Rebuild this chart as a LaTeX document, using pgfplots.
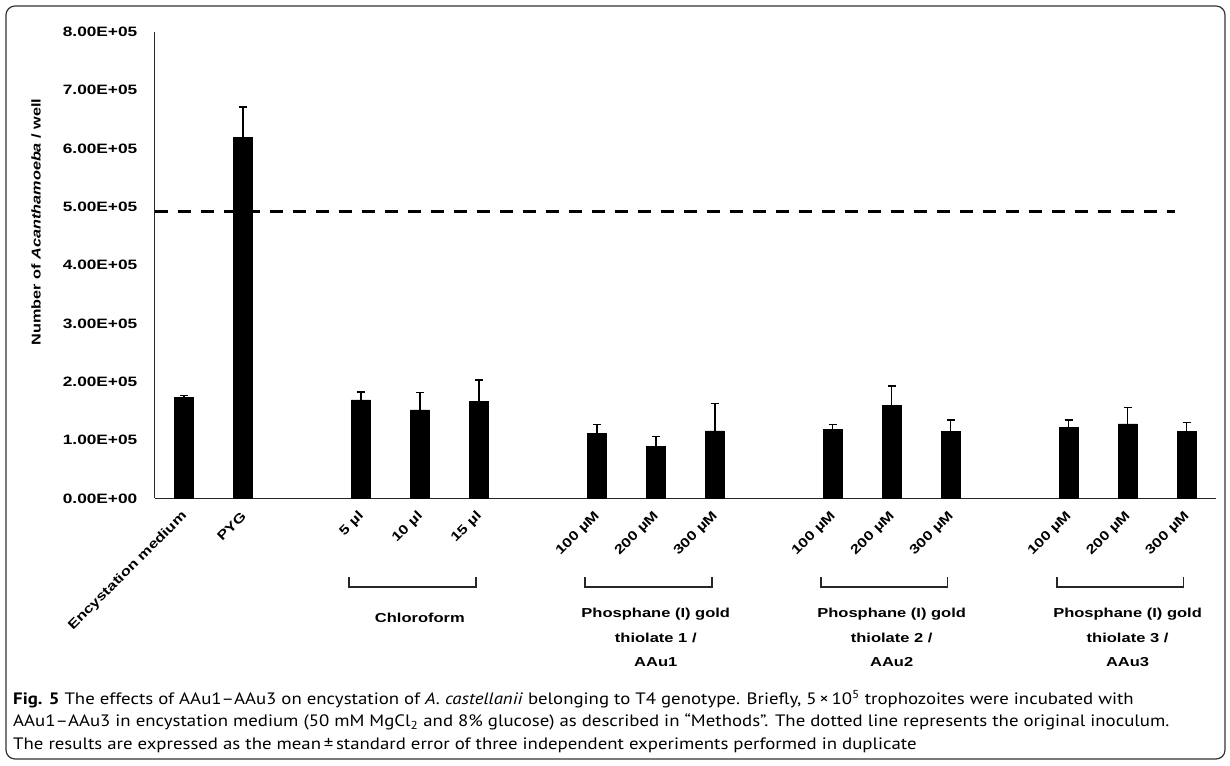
\documentclass[border=0pt]{standalone}
\usepackage{fontspec}
\usepackage{pgfplots}
\usepackage{pgfplotstable}
\pgfplotsset{compat=1.18}
\setmainfont{PT Sans}[FakeStretch=1.14]
\newfontfamily\chartfont{Liberation Sans}[FakeStretch=1.27]
\newcommand\cf{\chartfont\bfseries\fontsize{13}{15}\selectfont}
\newcommand\tf{\chartfont\bfseries\fontsize{13.6}{15}\selectfont}
\newcommand\capfont{\fontsize{16.5}{20}\selectfont}

\pgfplotstableread{
x y e
0 173000 3500
1 619500 51500
3 169000 14000
4 152000 30000
5 167000 36000
7 112000 15000
8 90000 16000
9 116000 47000
11 119000 8000
12 160000 33000
13 115000 20000
15 122000 13000
16 128000 28000
17 115000 15000
}\data

\begin{document}
\begin{tikzpicture}
\path[use as bounding box] (0,0) rectangle (1230pt,765pt);
\draw[line width=1.2pt, rounded corners=9pt, black!80] (6pt,6pt) rectangle (1225pt,759pt);
\begin{axis}[
  at={(154.5pt,266.5pt)}, anchor=south west,
  scale only axis, width=1061.5pt, height=466.5pt,
  xmin=-0.5, xmax=17.5, ymin=0, ymax=800000,
  axis x line*=bottom, axis y line*=left,
  axis line style={-, line width=1.2pt, black!85},
  major tick length=0pt,
  clip=false,
  scaled y ticks=false,
  ytick={0,100000,200000,300000,400000,500000,600000,700000,800000},
  yticklabels={0.00E+00,1.00E+05,2.00E+05,3.00E+05,4.00E+05,5.00E+05,6.00E+05,7.00E+05,8.00E+05},
  xtick={0,1,3,4,5,7,8,9,11,12,13,15,16,17},
  xticklabels={Encystation medium,PYG,5 µl,10 µl,15 µl,100 µM,200 µM,300 µM,100 µM,200 µM,300 µM,100 µM,200 µM,300 µM},
  yticklabel style={font=\tf, anchor=east, inner sep=0pt, xshift=-17pt},
  xticklabel style={font=\cf, inner sep=0pt, xshift=1pt, yshift=-15.5pt, rotate=45, anchor=east},
]
\addplot[black, line width=3pt, dash pattern=on 13pt off 10pt, forget plot] coordinates {(-0.5,492000) (16.8,492000)};
\addplot[ybar, bar width=19pt, fill=black, draw=black,
  error bars/.cd, y dir=plus, y explicit,
  error bar style={line width=1.6pt, black},
  error mark options={rotate=90, mark size=4pt, line width=1.6pt, black}]
  table[x=x, y=y, y error=e] {\data};
\foreach \a/\b in {2.8/4.95, 6.8/8.95, 10.8/12.95, 14.8/16.95}{
  \edef\tmp{\noexpand\draw[line width=1.6pt, black!85] (axis cs:\a,-134600) -- (axis cs:\a,-151800) -- (axis cs:\b,-151800) -- (axis cs:\b,-134600);}
  \tmp
}
\node[anchor=base, inner sep=0pt, font=\cf] at (axis cs:4,-211800) {Chloroform};
\foreach \g/\n in {8/1, 12/2, 16/3}{
  \edef\tmp{\noexpand\node[anchor=base, inner sep=0pt, font=\noexpand\cf] at (axis cs:\g,-204500) {Phosphane (I) gold};
  \noexpand\node[anchor=base, inner sep=0pt, font=\noexpand\cf] at (axis cs:\g,-247300) {thiolate \n\space/};
  \noexpand\node[anchor=base, inner sep=0pt, font=\noexpand\cf] at (axis cs:\g,-288500) {AAu\n};}
  \tmp
}
\end{axis}
\node[rotate=90, inner sep=0pt, font=\chartfont\bfseries\fontsize{12.8}{15}\selectfont] at (36pt,543pt) {Number of \textit{Acanthamoeba} / well};
\node[anchor=base west, inner sep=0pt, font=\capfont] at (13pt,60pt) {\textbf{Fig. 5} The effects of AAu1–AAu3 on encystation of \textit{A. castellanii} belonging to T4 genotype. Briefly, 5\,×\,10\textsuperscript{5} trophozoites were incubated with};
\node[anchor=base west, inner sep=0pt, font=\capfont] at (13pt,38pt) {AAu1–AAu3 in encystation medium (50 mM MgCl\textsubscript{2} and 8\% glucose) as described in “Methods”. The dotted line represents the original inoculum.};
\node[anchor=base west, inner sep=0pt, font=\capfont] at (13pt,16pt) {The results are expressed as the mean\,±\,standard error of three independent experiments performed in duplicate};
\end{tikzpicture}
\end{document}
